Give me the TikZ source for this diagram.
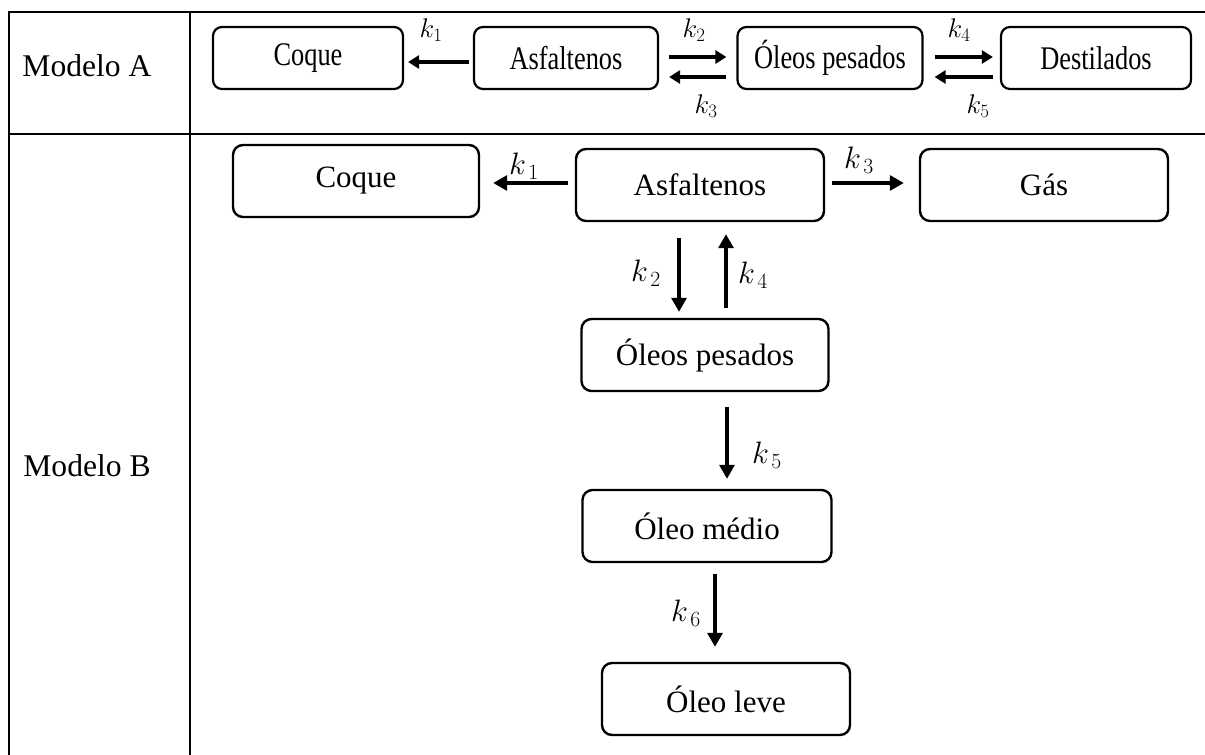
\RequirePackage{fix-cm}
\documentclass[tikz,border=0pt]{standalone}
\usepackage{fontspec}
\setmainfont{Liberation Serif}
\newfontfamily\condfont[FakeStretch=0.8]{Liberation Serif}
\usetikzlibrary{arrows.meta}
\begin{document}
\begin{tikzpicture}[x=1pt,y=-1pt,
  tbl/.style={line width=2.4pt},
  boxA/.style={draw, line width=2.2pt, rounded corners=9pt, minimum width=#1, minimum height=62pt, inner sep=0pt, font=\condfont\fontsize{33}{36}\selectfont},
  boxB/.style={draw, line width=2.4pt, rounded corners=10pt, minimum width=#1, minimum height=72pt, inner sep=0pt, font=\fontsize{31}{36}\selectfont},
  arrA/.style={line width=3.2pt, -{Triangle[length=11pt,width=13pt]}},
  arrB/.style={line width=3.2pt, -{Triangle[length=14pt,width=15pt]}},
  lblA/.style={inner sep=0pt, font=\fontsize{27}{30}\selectfont},
  lblB/.style={inner sep=0pt, font=\fontsize{31}{34}\selectfont},
  rowlbl/.style={inner sep=0pt, font=\fontsize{31.6}{36}\selectfont}]
\useasboundingbox (0,0) rectangle (1205,755);
\fill[white] (0,0) rectangle (1205,755);
% table
\draw[tbl] (1205,12) -- (9,12) -- (9,755);
\draw[tbl] (190,12) -- (190,755);
\draw[tbl] (9,134) -- (1205,134);
\node[rowlbl] (mA) at (87,66) {Modelo A};
\node[rowlbl] (mB) at (87,466) {Modelo B};
% Model A
\node[boxA=190pt] (coqA) at (308,58) {Coque};
\node[boxA=184pt] (asfA) at (566,58) {Asfaltenos};
\node[boxA=185pt] (olpA) at (830,58) {Óleos pesados};
\node[boxA=190pt] (desA) at (1096,58) {Destilados};
\draw[arrA] ([xshift=-4pt,yshift=-4pt]asfA.west) -- ([xshift=4pt,yshift=-4pt]coqA.east);
\draw[arrA] ([xshift=10pt,yshift=1pt]asfA.east) -- ([xshift=-10pt,yshift=1pt]olpA.west);
\draw[arrA] ([xshift=-10pt,yshift=-19pt]olpA.west) -- ([xshift=10pt,yshift=-19pt]asfA.east);
\draw[arrA] ([xshift=11pt,yshift=1pt]olpA.east) -- ([xshift=-7pt,yshift=1pt]desA.west);
\draw[arrA] ([xshift=-7pt,yshift=-19pt]desA.west) -- ([xshift=11pt,yshift=-19pt]olpA.east);
\node[lblA] (a1) at (431,30) {$k_1$};
\node[lblA] (a2) at (694,30) {$k_2$};
\node[lblA] (a3) at (706,106) {$k_3$};
\node[lblA] (a4) at (959,30) {$k_4$};
\node[lblA] (a5) at (978,106) {$k_5$};
% Model B
\node[boxB=246pt] (coqB) at (356,181) {Coque};
\node[boxB=248pt] (asfB) at (700,185) {Asfaltenos};
\node[boxB=248pt] (gas) at (1044,185) {Gás};
\node[boxB=247pt] (olpB) at (705,355) {Óleos pesados};
\node[boxB=249pt] (olm) at (707,526) {Óleo médio};
\node[boxB=248pt] (oll) at (726,699) {Óleo leve};
\draw[arrB] ([xshift=-7pt,yshift=2pt]asfB.west) -- ([xshift=13pt,yshift=-2pt]coqB.east);
\draw[arrB] ([xshift=7pt,yshift=2pt]asfB.east) -- ([xshift=-15pt,yshift=2pt]gas.west);
\draw[arrB] ([xshift=-21pt,yshift=-16pt]asfB.south) -- ([xshift=-26pt,yshift=6pt]olpB.north);
\draw[arrB] ([xshift=21pt,yshift=10pt]olpB.north) -- ([xshift=26pt,yshift=-12pt]asfB.south);
\draw[arrB] ([xshift=22pt,yshift=-15pt]olpB.south) -- ([xshift=20pt,yshift=10pt]olm.north);
\draw[arrB] ([xshift=8pt,yshift=-11pt]olm.south) -- ([xshift=-11pt,yshift=15pt]oll.north);
\node[lblB] (b1) at (524,166) {$k_{\,1}$};
\node[lblB] (b3) at (859,160) {$k_{\,3}$};
\node[lblB] (b2) at (646,273) {$k_{\,2}$};
\node[lblB] (b4) at (753,275) {$k_{\,4}$};
\node[lblB] (b5) at (767,455) {$k_{\,5}$};
\node[lblB] (b6) at (686,613) {$k_{\,6}$};
\end{tikzpicture}
\end{document}
